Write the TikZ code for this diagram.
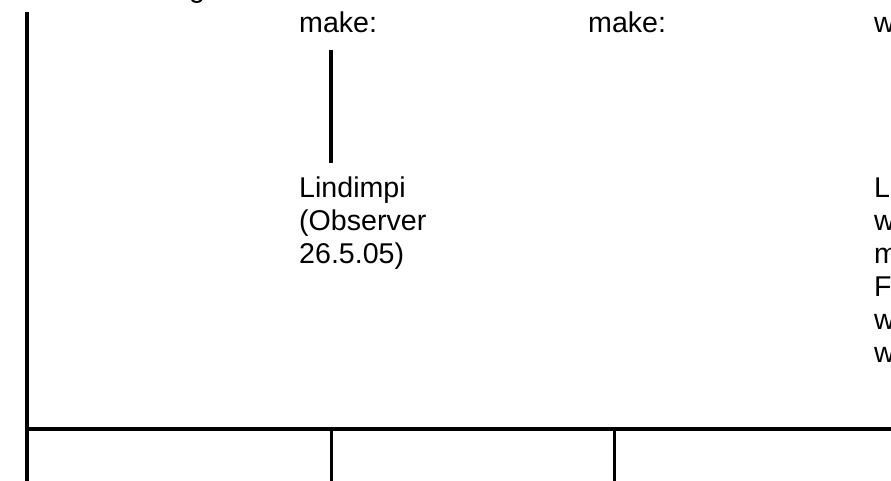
\documentclass[tikz,border=0pt]{standalone}
\usepackage{fontspec}
\setmainfont{Liberation Sans}
\begin{document}
\begin{tikzpicture}[x=1pt,y=-1pt,
  rule/.style={line width=3.6pt},
  thinrule/.style={line width=3pt},
  lbl/.style={anchor=base west, inner sep=0pt, font=\fontsize{28.6}{33}\selectfont, align=left}]
\useasboundingbox (0,0) rectangle (891,481);
\clip (0,0) rectangle (891,481);
% texts (multi-line nodes: base anchor = baseline of last line)
\node[lbl] (g) at (189,-2) {g};
\node[lbl] (make1) at (299,33) {make:};
\node[lbl] (make2) at (588,33) {make:};
\node[lbl] (w0) at (874,33) {w};
\node[lbl] (lind) at (299,263) {Lindimpi\\(Observer\\26.5.05)};
\node[lbl] (right) at (874,362) {L\\w\\m\\F\\w\\w};
% frame lines
\coordinate (ltop) at (27,12);
\coordinate (lbot) at (27,481);
\coordinate (hl) at (25.2,429);
\coordinate (hr) at (891,429);
\coordinate (c1top) at (331,50);
\coordinate (c1bot) at (331,163);
\coordinate (b1top) at (331,429);
\coordinate (b1bot) at (331,481);
\coordinate (b2top) at (614,429);
\coordinate (b2bot) at (614,481);
\draw[rule] (ltop) -- (lbot);
\draw[rule] (hl) -- (hr);
\draw[rule] (c1top) -- (c1bot);
\draw[thinrule] (b1top) -- (b1bot);
\draw[thinrule] (b2top) -- (b2bot);
\end{tikzpicture}
\end{document}
